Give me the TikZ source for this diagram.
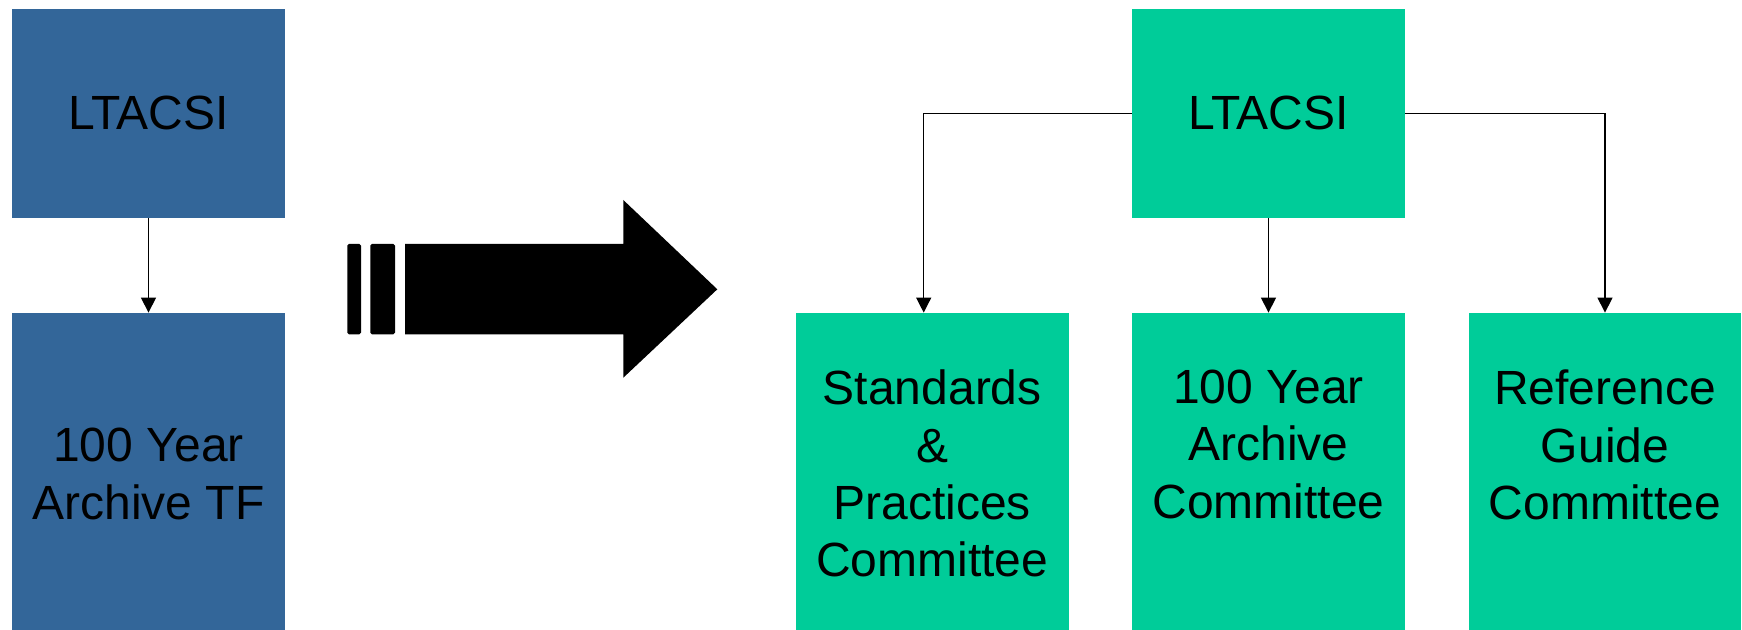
\documentclass[tikz,border=0pt]{standalone}
\usepackage{fontspec}
\setmainfont{Liberation Sans}
\usepackage{tikz}
\usepackage{xcolor}
\usetikzlibrary{positioning}
\usetikzlibrary{arrows.meta}
\definecolor{oldblue}{RGB}{51,102,153}
\definecolor{newgreen}{RGB}{0,204,153}
\tikzset{
orgbox/.style={fill=#1, inner sep=0pt, minimum width=136.35pt, align=center,
               font=\fontsize{24}{28.7}\selectfont},
topbox/.style={orgbox=#1, minimum height=104.35pt},
lowbox/.style={orgbox=#1, minimum height=161pt},
boxtext/.style={inner sep=0pt, anchor=north, align=center,
                font=\fontsize{24}{28.7}\selectfont},
link/.style={black, line width=0.65pt, -{Triangle[length=7.5pt,width=7.5pt]}}
}

\begin{document}
\begin{tikzpicture}[x=0.5pt,y=-0.5pt]
\path[use as bounding box] (0,0) rectangle (1742,630);
\clip (0,0) rectangle (1742,630);

% Boxes
\node[topbox=oldblue] (ltacsi_old) at (148.5,113.3) {LTACSI};
\node[lowbox=oldblue] (tf_old) at (148.5,474) {100 Year\\Archive TF};

\node[topbox=newgreen] (ltacsi) at (1268.5,113.3) {LTACSI};
\node[lowbox=newgreen] (std) at (932.3,474) {};
\node[lowbox=newgreen] (archive) at (1268.5,474) {};
\node[lowbox=newgreen] (guide) at (1605,474) {};

\node[boxtext, below=28.5pt of std.north] (std_text) {Standards\\\&\\Practices\\Committee};
\node[boxtext, below=28.5pt of archive.north] (archive_text) {100 Year\\Archive\\Committee};
\node[boxtext, below=28.5pt of guide.north] (guide_text) {Reference\\Guide\\Committee};

% Coordinates
\coordinate (std_top) at ([xshift=-4.3pt]std.north);

% Big arrow
\fill[black, rounded corners=0.8pt] (347.3,244) rectangle (361,334.3);
\fill[black, rounded corners=0.8pt] (370.3,244) rectangle (395,334.3);
\fill[black] (405,244) -- (623.3,244) -- (623.3,200) -- (717.3,289.3)
  -- (623.3,377.7) -- (623.3,334.3) -- (405,334.3) -- cycle;

% Arrows
\draw[link] (ltacsi_old) -- (tf_old);
\draw[link] (ltacsi) -- (archive);
\draw[link] (ltacsi.west) -| (std_top);
\draw[link] (ltacsi.east) -| (guide.north);

\end{tikzpicture}
\end{document}
